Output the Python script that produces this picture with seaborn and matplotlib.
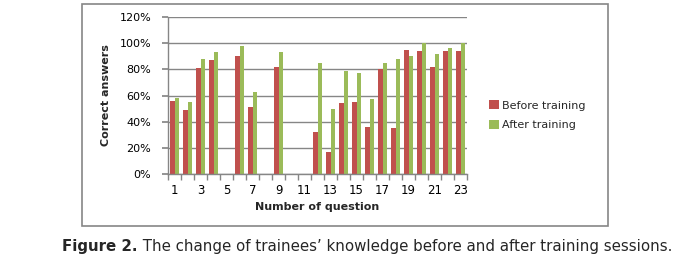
import numpy as np
import pandas as pd
import matplotlib
matplotlib.use("Agg")
import matplotlib.pyplot as plt
from matplotlib.patches import Rectangle
from matplotlib.ticker import FixedLocator, FuncFormatter
import seaborn as sns

questions = list(range(1, 24))
before = [56, 49, 81, 87, np.nan, 90, 51, np.nan, 82, np.nan, np.nan, 32,
          17, 54, 55, 36, 80, 35, 95, 94, 82, 94, 94]
after = [58, 55, 88, 93, np.nan, 98, 63, np.nan, 93, np.nan, np.nan, 85,
         50, 79, 77, 57, 85, 88, 90, 100, 92, 96, 100]
series_names = ["Before training", "After training"]
y_ticks = [0, 20, 40, 60, 80, 100, 120]
caption_bold = "Figure 2."
caption_rest = " The change of trainees\u2019 knowledge before and after training sessions."

df = pd.DataFrame({
    "q": [str(q) for q in questions] * 2,
    "value": before + after,
    "series": [series_names[0]] * len(questions) + [series_names[1]] * len(questions),
})

sns.set_theme(style="white")
plt.rcParams["font.family"] = ["DejaVu Sans"]

fig = plt.figure(figsize=(6.85, 2.65), dpi=100)
ax = fig.add_axes([168 / 685, 1 - 174 / 265, (467 - 168) / 685, (174 - 17) / 265])

palette = {series_names[0]: "#C0504D", series_names[1]: "#9BBB59"}
sns.barplot(data=df, x="q", y="value", hue="series", order=[str(q) for q in questions],
            hue_order=series_names, palette=palette, width=0.62, dodge=True,
            saturation=1, ax=ax, legend=True, linewidth=0, edgecolor="none")

ax.set_ylim(0, 120)
ax.set_xlim(-0.5, len(questions) - 0.5)
ax.yaxis.set_major_locator(FixedLocator(y_ticks))
ax.yaxis.set_major_formatter(FuncFormatter(lambda v, p: f"{int(v)}%"))
ax.grid(False)
ax.yaxis.grid(True, which="major", color="#868686", linewidth=1, linestyle="-")
ax.xaxis.grid(False, which="both")
ax.set_axisbelow(True)
for s in ["top", "right"]:
    ax.spines[s].set_visible(False)
for s in ["left", "bottom"]:
    ax.spines[s].set_color("#868686")
    ax.spines[s].set_linewidth(1)

ax.set_xticks(range(len(questions)))
ax.set_xticklabels([str(q) if q % 2 == 1 else "" for q in questions])
ax.tick_params(axis="x", which="major", length=0, pad=7, labelsize=8.5, colors="black")
ax.set_xticks(np.arange(-0.5, len(questions), 1), minor=True)
ax.tick_params(axis="x", which="minor", length=4, color="#868686", direction="out", bottom=True)
ax.tick_params(axis="y", which="major", length=4, color="#868686", direction="out", left=True,
               labelsize=8, pad=8, labelcolor="black")

ax.set_xlabel("Number of question", fontsize=8, fontweight="bold", labelpad=4)
ax.set_ylabel("Correct answers", fontsize=8, fontweight="semibold", labelpad=6)

leg = ax.legend(loc="center left", bbox_to_anchor=(1.04, 0.375), frameon=False,
                fontsize=8, handlelength=0.9, handleheight=0.9, handletextpad=0.3,
                labelspacing=0.8)
for h in leg.legend_handles:
    h.set_linewidth(0)

fig.patches.append(Rectangle((82 / 685, 1 - 226 / 265), (608 - 82) / 685, (226 - 4) / 265,
                             transform=fig.transFigure, fill=False, edgecolor="#868686",
                             linewidth=1.2))

t1 = fig.text(62 / 685, 1 - 247 / 265, caption_bold, fontsize=10.8, fontweight="bold",
              va="center", ha="left", family=["DejaVu Sans"])
fig.canvas.draw()
bb = t1.get_window_extent()
x2 = bb.x1 / fig.bbox.width
fig.text(x2, 1 - 247 / 265, caption_rest, fontsize=10.8, va="center", ha="left",
         family=["DejaVu Sans"])

fig.savefig("out.png", dpi=100)
